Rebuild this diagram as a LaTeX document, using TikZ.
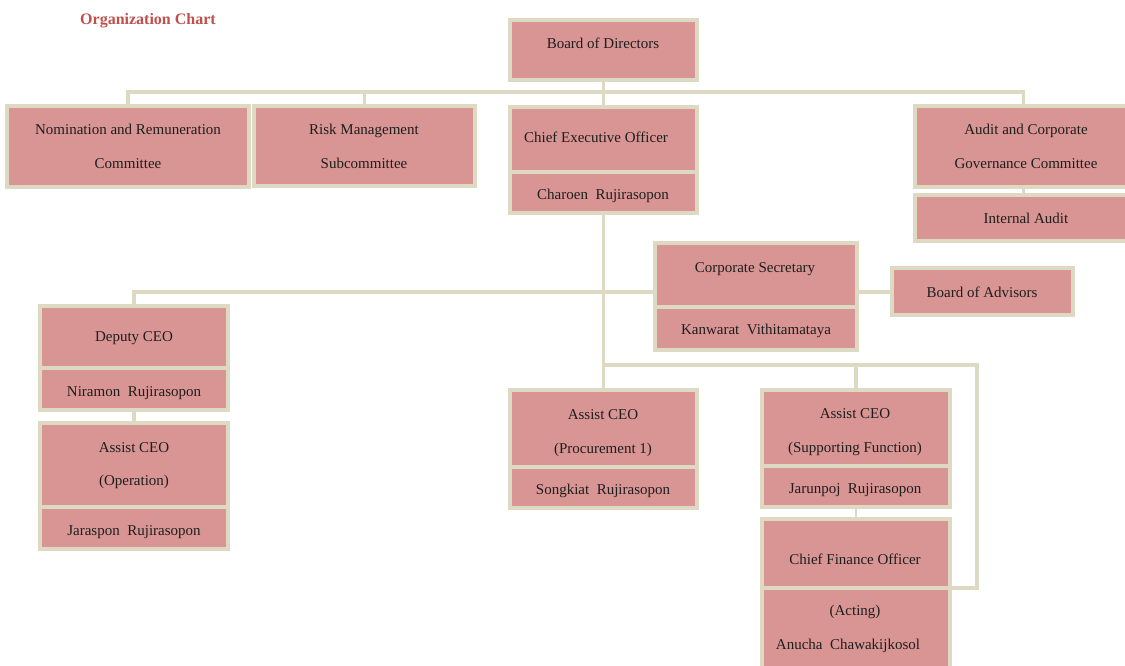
\documentclass[tikz,border=0pt]{standalone}
\usepackage{fontspec}
\setmainfont{Liberation Serif}
\usetikzlibrary{fit}
\definecolor{boxfill}{HTML}{D99594}
\definecolor{boxline}{HTML}{DDD9C3}
\definecolor{titlecol}{HTML}{C0504D}
\definecolor{txtcol}{HTML}{1E1E1E}
\tikzset{
  box/.style={draw=boxline, fill=boxfill, line width=3.2pt, inner sep=0pt},
  conn/.style={draw=boxline, line width=3.4pt},
  thinconn/.style={draw=boxline, line width=2.4pt},
  lbl/.style={anchor=base, inner sep=0pt, text=txtcol, font=\fontsize{15}{18}\selectfont},
  ttl/.style={anchor=base west, inner sep=0pt, text=titlecol, font=\fontsize{16}{18}\selectfont\bfseries}
}
\newcommand\mybox[5]{\node[box, fit={({#2+1.6},{#3+1.6}) ({#4-1.6},{#5-1.6})}] (#1) {};}
\newcommand\mytxt[4]{\node[lbl] (#1) at ({#2},{#3+5}) {#4};}
\begin{document}
\begin{tikzpicture}[x=1pt,y=-1pt]
\clip (0,0) rectangle (1125,666);
\fill[white] (0,0) rectangle (1125,666);

% ---- boxes ----
\mybox{bod}{510}{20}{697}{80}
\mybox{nom}{7}{106}{249}{187}
\mybox{risk}{254}{106}{475}{186}
\mybox{ceo}{510}{107}{697}{173}
\mybox{ceon}{510}{172}{697}{213}
\mybox{aud}{915}{106}{1132}{187}
\mybox{ia}{915}{195}{1132}{241}
\mybox{cs}{655}{243}{857}{308}
\mybox{csn}{655}{307}{857}{350}
\mybox{boa}{892}{268}{1073}{315}
\mybox{dep}{40}{306}{228}{369}
\mybox{depn}{40}{368}{228}{410}
\mybox{aop}{40}{423}{228}{508}
\mybox{aopn}{40}{507}{228}{549}
\mybox{pas}{510}{390}{697}{468}
\mybox{pasn}{510}{467}{697}{508}
\mybox{sup}{762}{390}{950}{467}
\mybox{supn}{762}{466}{950}{507}
\mybox{cfo}{762}{519}{950}{589}
\mybox{cfoa}{762}{588}{950}{672}

% ---- junction coordinates ----
\coordinate (bus) at (603,92);
\coordinate (h1) at (603,292);
\coordinate (h2) at (603,365);
\coordinate (rc) at (977,365);

% ---- connectors ----
\draw[conn] (nom.north) -- (nom.north |- bus) -- (aud.north |- bus) -- (aud.north);
\draw[conn] (risk.north) -- (risk.north |- bus);
\draw[conn] (bod.south) -- (ceo.north);
\draw[conn] (ceon.south) -- (pas.north);
\draw[conn] (dep.north) -- (dep.north |- h1) -- (h1 -| cs.west);
\draw[conn] (h1 -| cs.east) -- (h1 -| boa.west);
\draw[conn] (h2) -- (rc) -- (rc |- cfoa.north) -- (cfoa.north east);
\draw[conn] (sup.north) -- (sup.north |- h2);
\draw[conn] (depn.south) -- (aop.north);
\draw[conn] (aud.south) -- (ia.north);
\draw[thinconn] (supn.south) -- (cfo.north);

% redraw boxes over connector ends
\foreach \b in {bod,nom,risk,ceo,ceon,aud,ia,cs,csn,boa,dep,depn,aop,aopn,pas,pasn,sup,supn,cfo,cfoa}{
  \draw[box] (\b.north west) rectangle (\b.south east);
}

% ---- texts ----
\node[ttl] (title) at (80,25) {Organization Chart};
\mytxt{bodt}{603}{44}{Board of Directors}
\mytxt{nomt1}{128}{130}{Nomination and Remuneration}
\mytxt{nomt2}{128}{163}{Committee}
\mytxt{riskt1}{364}{130}{Risk Management}
\mytxt{riskt2}{364}{163}{Subcommittee}
\mytxt{ceot}{596}{138}{Chief Executive Officer}
\mytxt{ceont}{603}{195}{Charoen\ \ Rujirasopon}
\mytxt{audt1}{1026}{130}{Audit and Corporate}
\mytxt{audt2}{1026}{163}{Governance Committee}
\mytxt{iat}{1026}{218}{Internal Audit}
\mytxt{cst}{755}{267}{Corporate Secretary}
\mytxt{csnt}{756}{329}{Kanwarat\ \ Vithitamataya}
\mytxt{boat}{982}{292}{Board of Advisors}
\mytxt{dept}{134}{336}{Deputy CEO}
\mytxt{depnt}{134}{391}{Niramon\ \ Rujirasopon}
\mytxt{aopt1}{134}{447}{Assist CEO}
\mytxt{aopt2}{134}{480}{(Operation)}
\mytxt{aopnt}{134}{530}{Jaraspon\ \ Rujirasopon}
\mytxt{past1}{603}{414}{Assist CEO}
\mytxt{past2}{603}{448}{(Procurement 1)}
\mytxt{pasnt}{603}{489}{Songkiat\ \ Rujirasopon}
\mytxt{supt1}{855}{413}{Assist CEO}
\mytxt{supt2}{855}{447}{(Supporting Function)}
\mytxt{supnt}{855}{488}{Jarunpoj\ \ Rujirasopon}
\mytxt{cfot}{855}{559}{Chief Finance Officer}
\mytxt{cfoat1}{855}{610}{(Acting)}
\mytxt{cfoat2}{848}{644}{Anucha\ \ Chawakijkosol}
\end{tikzpicture}
\end{document}
